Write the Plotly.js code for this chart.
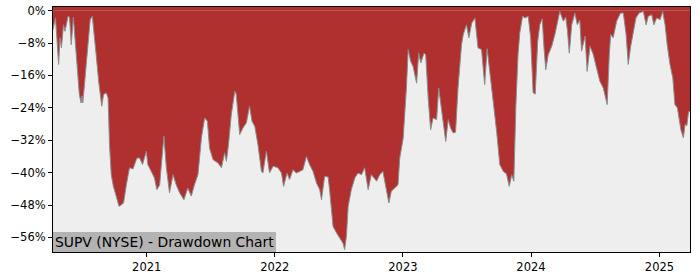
<!DOCTYPE html>
<html>
<head>
<meta charset="utf-8">
<script src="https://cdn.plot.ly/plotly-3.0.1.min.js"></script>
<style>html,body{margin:0;padding:0;background:#fff;}#chart{width:700px;height:280px;}</style>
</head>
<body>
<div id="chart"></div>
<script>
const dates = [
"2020-04-09","2020-04-16","2020-04-20","2020-04-25","2020-04-29","2020-05-03","2020-05-09","2020-05-13","2020-05-17","2020-05-22",
"2020-05-26","2020-05-31","2020-06-06","2020-06-12","2020-06-19","2020-06-23","2020-06-28","2020-07-01","2020-07-03","2020-07-11",
"2020-07-17","2020-07-24","2020-07-30","2020-08-03","2020-08-10","2020-08-17","2020-08-22","2020-08-26","2020-08-31","2020-09-08",
"2020-09-13","2020-09-17","2020-09-22","2020-09-28","2020-10-06","2020-10-14","2020-10-20","2020-10-27","2020-11-04","2020-11-13",
"2020-11-23","2020-12-04","2020-12-12","2020-12-20","2020-12-31","2021-01-04","2021-01-14","2021-01-23","2021-01-30","2021-02-07",
"2021-02-11","2021-02-19","2021-02-26","2021-03-07","2021-03-17","2021-03-26","2021-04-05","2021-04-17","2021-04-28","2021-05-08",
"2021-05-17","2021-05-27","2021-06-06","2021-06-15","2021-06-23","2021-06-29","2021-07-09","2021-07-23","2021-08-02","2021-08-11",
"2021-08-16","2021-08-22","2021-08-30","2021-09-09","2021-09-13","2021-09-23","2021-10-02","2021-10-12","2021-10-21","2021-10-28",
"2021-11-05","2021-11-14","2021-11-24","2021-11-28","2021-12-08","2021-12-17","2021-12-27","2022-01-10","2022-01-20","2022-01-26",
"2022-02-05","2022-02-12","2022-02-22","2022-03-03","2022-03-13","2022-03-22","2022-04-01","2022-04-10","2022-04-20","2022-04-30",
"2022-05-09","2022-05-14","2022-05-23","2022-06-02","2022-06-06","2022-06-16","2022-06-26","2022-07-05","2022-07-14","2022-07-19",
"2022-07-24","2022-07-29","2022-08-07","2022-08-17","2022-08-26","2022-09-05","2022-09-14","2022-09-24","2022-10-03","2022-10-18",
"2022-10-27","2022-11-05","2022-11-12","2022-11-22","2022-11-29","2022-12-09","2022-12-18","2022-12-23","2023-01-02","2023-01-06",
"2023-01-11","2023-01-16","2023-01-23","2023-01-30","2023-02-09","2023-02-15","2023-02-21","2023-03-02","2023-03-07","2023-03-14",
"2023-03-21","2023-03-28","2023-04-07","2023-04-13","2023-04-21","2023-04-28","2023-05-03","2023-05-10","2023-05-17","2023-05-24",
"2023-05-31","2023-06-07","2023-06-17","2023-06-22","2023-07-01","2023-07-08","2023-07-16","2023-07-25","2023-08-03","2023-08-13",
"2023-08-22","2023-08-29","2023-09-06","2023-09-15","2023-09-25","2023-10-04","2023-10-14","2023-10-23","2023-10-31","2023-11-07",
"2023-11-13","2023-11-19","2023-11-25","2023-11-30","2023-12-08","2023-12-15","2023-12-24","2023-12-31","2024-01-07","2024-01-13",
"2024-01-20","2024-01-26","2024-02-02","2024-02-07","2024-02-12","2024-02-19","2024-02-29","2024-03-09","2024-03-16","2024-03-23",
"2024-04-02","2024-04-09","2024-04-14","2024-04-19","2024-04-26","2024-05-05","2024-05-12","2024-05-19","2024-05-24","2024-06-03",
"2024-06-09","2024-06-17","2024-06-26","2024-07-06","2024-07-15","2024-07-25","2024-08-05","2024-08-11","2024-08-15","2024-08-22",
"2024-09-01","2024-09-12","2024-09-20","2024-09-28","2024-10-04","2024-10-11","2024-10-18","2024-10-26","2024-11-04","2024-11-16",
"2024-11-24","2024-11-30","2024-12-10","2024-12-16","2024-12-24","2025-01-03","2025-01-10","2025-01-17","2025-01-23","2025-01-31",
"2025-02-08","2025-02-14","2025-02-21","2025-02-27","2025-03-03","2025-03-10","2025-03-15","2025-03-20","2025-03-25","2025-03-29"
];
const drawdown = [
-4.7,-1.8,-6.7,-13.3,-6.7,-9.2,-3.5,-5.1,-3.5,-1.4,
-1.6,-8.4,-1.6,-9.2,-15.8,-20.7,-22.8,-21.0,-22.8,-15.0,
-9.2,-2.2,-1.4,-4.3,-10.9,-17.4,-20.3,-23.6,-20.7,-20.3,
-21.6,-33.1,-40.5,-43.4,-45.8,-48.3,-48.0,-47.5,-43.0,-38.8,
-39.1,-36.4,-36.4,-38.0,-34.7,-38.0,-39.7,-41.3,-44.2,-43.0,
-38.8,-31.0,-38.8,-45.0,-40.5,-43.0,-45.0,-46.7,-43.8,-45.8,
-43.0,-40.5,-31.4,-26.5,-27.3,-33.9,-36.8,-37.6,-38.8,-35.1,
-37.2,-33.1,-25.7,-19.9,-20.6,-30.6,-29.0,-27.7,-23.6,-27.3,
-28.6,-33.1,-39.7,-40.1,-34.7,-40.1,-38.4,-38.8,-40.1,-43.4,
-40.1,-41.7,-39.3,-40.1,-39.7,-39.3,-36.0,-38.0,-39.7,-42.6,
-44.2,-46.7,-40.9,-41.1,-44.2,-53.3,-54.9,-56.1,-57.4,-59.0,
-55.7,-48.3,-44.2,-41.3,-40.1,-40.5,-38.8,-44.2,-40.5,-42.1,
-40.5,-39.7,-43.0,-47.5,-44.6,-43.8,-43.0,-36.4,-31.4,-25.7,
-19.1,-9.6,-12.5,-13.8,-17.9,-10.5,-12.9,-10.5,-10.9,-21.6,
-29.4,-26.5,-26.9,-19.1,-24.0,-28.1,-32.3,-26.9,-29.0,-30.2,
-30.0,-19.1,-8.4,-5.9,-3.5,-6.7,-3.1,-1.8,-9.2,-9.6,
-18.3,-9.4,-15.0,-22.4,-29.8,-38.0,-39.7,-40.3,-43.4,-40.5,
-42.1,-23.2,-10.9,-5.5,-1.4,-1.8,-1.4,-6.7,-20.3,-20.6,
-7.6,-3.5,-2.0,-9.2,-14.6,-10.9,-8.8,-5.9,-3.0,-0.2,
-2.6,-1.6,-5.1,-10.5,-3.5,-0.6,-3.5,-2.3,-10.0,-6.3,
-15.0,-8.8,-10.7,-14.6,-17.4,-19.1,-23.2,-10.9,-5.9,-6.7,
-2.6,-0.6,-0.6,-5.9,-13.3,-8.8,-5.9,-1.8,-0.6,-0.2,
-3.5,-1.4,-1.0,-3.5,-1.8,-2.2,-0.2,-3.5,-8.4,-13.3,
-16.6,-23.2,-24.0,-27.3,-29.4,-31.4,-28.1,-28.4,-24.9,-25.0
];
const yTickVals = [0,-8,-16,-24,-32,-40,-48,-56];
const yTickText = ["0%","\u22128%","\u221216%","\u221224%","\u221232%","\u221240%","\u221248%","\u221256%"];
const xTickVals = ["2021-01-01","2022-01-01","2023-01-01","2024-01-01","2025-01-01"];
const xTickText = ["2021","2022","2023","2024","2025"];
const titleText = "SUPV (NYSE) - Drawdown Chart";

const red = "#b03030";
const trace = {
  x: dates, y: drawdown, type: "scatter", mode: "lines",
  fill: "tozeroy", fillcolor: red,
  line: {color: "#8c8c8c", width: 1},
  hoverinfo: "skip"
};
const layout = {
  width: 700, height: 280,
  margin: {l: 53, r: 10, t: 7, b: 28, pad: 0},
  paper_bgcolor: "#ffffff", plot_bgcolor: "#eeeeee",
  showlegend: false,
  font: {family: "DejaVu Sans", size: 11.5, color: "#000"},
  xaxis: {
    type: "date", range: ["2020-04-09", "2025-03-29"],
    tickvals: xTickVals, ticktext: xTickText,
    ticks: "outside", ticklen: 4, tickcolor: "#000", tickwidth: 1,
    showgrid: false, zeroline: false,
    showline: true, linecolor: "#000", linewidth: 1, mirror: true,
    tickfont: {family: "DejaVu Sans", size: 11.5, color: "#000"}
  },
  yaxis: {
    range: [-59.6, 0.9],
    tickvals: yTickVals, ticktext: yTickText,
    ticks: "outside", ticklen: 4, tickcolor: "#000", tickwidth: 1,
    showgrid: false, zeroline: false,
    showline: true, linecolor: "#000", linewidth: 1, mirror: true,
    tickfont: {family: "DejaVu Sans", size: 11.5, color: "#000"}
  },
  shapes: [{
    type: "rect", xref: "paper", yref: "y", x0: 0, x1: 1, y0: 0, y1: 5,
    fillcolor: red, line: {width: 0}, layer: "below"
  }],
  annotations: [{
    xref: "paper", yref: "paper", x: 0, y: 0, xanchor: "left", yanchor: "bottom",
    text: titleText, showarrow: false, bgcolor: "#b3b3b3", borderpad: 2, borderwidth: 0,
    font: {family: "DejaVu Sans", size: 13.9, color: "#000"}
  }]
};
Plotly.newPlot("chart", [trace], layout, {staticPlot: true, displayModeBar: false});
</script>
</body>
</html>
